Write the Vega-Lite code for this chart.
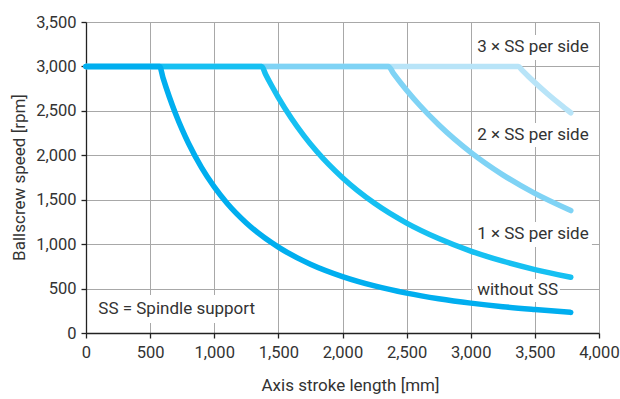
{
  "$schema": "https://vega.github.io/schema/vega-lite/v6.json",
  "width": 513,
  "height": 311,
  "autosize": {"type": "none"},
  "padding": {"left": 86, "top": 22, "right": 21, "bottom": 66},
  "background": "white",
  "config": {
    "font": "Roboto",
    "view": {"stroke": null},
    "axis": {
      "grid": true,
      "gridColor": "#a8a8a8",
      "gridWidth": 1,
      "gridOpacity": 1,
      "domainColor": "#222222",
      "domainWidth": 1.3,
      "tickColor": "#222222",
      "tickWidth": 1.3,
      "tickSize": 5,
      "labelFontSize": 16.5,
      "labelColor": "#333333",
      "labelFont": "Roboto",
      "labelFlush": false,
      "labelOverlap": false,
      "titleFont": "Roboto",
      "titleFontSize": 17,
      "titleFontWeight": "normal",
      "titleColor": "#333333"
    }
  },
  "datasets": {
    "curves": [
      {"s": "3x", "L": 0, "n": 3000}, {"s": "3x", "L": 3371, "n": 3000}, {"s": "3x", "L": 3400, "n": 2958},
      {"s": "3x", "L": 3450, "n": 2887}, {"s": "3x", "L": 3500, "n": 2819}, {"s": "3x", "L": 3600, "n": 2690},
      {"s": "3x", "L": 3700, "n": 2570}, {"s": "3x", "L": 3780, "n": 2479},

      {"s": "2x", "L": 0, "n": 3000}, {"s": "2x", "L": 2357, "n": 3000}, {"s": "2x", "L": 2400, "n": 2916},
      {"s": "2x", "L": 2450, "n": 2822}, {"s": "2x", "L": 2500, "n": 2733}, {"s": "2x", "L": 2600, "n": 2566},
      {"s": "2x", "L": 2750, "n": 2344}, {"s": "2x", "L": 3000, "n": 2033}, {"s": "2x", "L": 3250, "n": 1780},
      {"s": "2x", "L": 3500, "n": 1571}, {"s": "2x", "L": 3780, "n": 1378},

      {"s": "1x", "L": 0, "n": 3000}, {"s": "1x", "L": 1370, "n": 3000}, {"s": "1x", "L": 1400, "n": 2913},
      {"s": "1x", "L": 1450, "n": 2777}, {"s": "1x", "L": 1500, "n": 2650}, {"s": "1x", "L": 1600, "n": 2420},
      {"s": "1x", "L": 1700, "n": 2219}, {"s": "1x", "L": 1800, "n": 2042}, {"s": "1x", "L": 2000, "n": 1747},
      {"s": "1x", "L": 2250, "n": 1459}, {"s": "1x", "L": 2500, "n": 1237}, {"s": "1x", "L": 2750, "n": 1063},
      {"s": "1x", "L": 3000, "n": 922}, {"s": "1x", "L": 3250, "n": 808}, {"s": "1x", "L": 3500, "n": 714},
      {"s": "1x", "L": 3780, "n": 627},

      {"s": "0", "L": 0, "n": 3000}, {"s": "0", "L": 574, "n": 3000}, {"s": "0", "L": 600, "n": 2874},
      {"s": "0", "L": 650, "n": 2656}, {"s": "0", "L": 700, "n": 2462}, {"s": "0", "L": 750, "n": 2288},
      {"s": "0", "L": 800, "n": 2132}, {"s": "0", "L": 900, "n": 1864}, {"s": "0", "L": 1000, "n": 1644},
      {"s": "0", "L": 1100, "n": 1460}, {"s": "0", "L": 1250, "n": 1238}, {"s": "0", "L": 1500, "n": 966},
      {"s": "0", "L": 1750, "n": 774}, {"s": "0", "L": 2000, "n": 635}, {"s": "0", "L": 2250, "n": 530},
      {"s": "0", "L": 2500, "n": 449}, {"s": "0", "L": 2750, "n": 386}, {"s": "0", "L": 3000, "n": 336},
      {"s": "0", "L": 3250, "n": 296}, {"s": "0", "L": 3500, "n": 264}, {"s": "0", "L": 3780, "n": 232}
    ],
    "boxes": [
      {"L": 3015, "L2": 3945, "n": 3072, "n2": 3353},
      {"L": 3015, "L2": 3945, "n": 2093, "n2": 2363},
      {"L": 3015, "L2": 3945, "n": 968, "n2": 1249},
      {"L": 3015, "L2": 3696, "n": 349, "n2": 608},
      {"L": 47, "L2": 1318, "n": 113, "n2": 428}
    ],
    "labels": [
      {"L": 3050, "n": 3222, "text": "3 × SS per side"},
      {"L": 3050, "n": 2228, "text": "2 × SS per side"},
      {"L": 3050, "n": 1111, "text": "1 × SS per side"},
      {"L": 3050, "n": 484, "text": "without SS"},
      {"L": 96, "n": 267, "text": "SS = Spindle support"}
    ]
  },
  "encoding": {
    "x": {
      "field": "L", "type": "quantitative",
      "scale": {"domain": [0, 4000], "nice": false, "zero": false},
      "axis": {"title": "Axis stroke length [mm]", "tickCount": 8, "format": ",.0f", "labelPadding": 6, "titleX": 264, "titleY": 57, "titleBaseline": "alphabetic"}
    },
    "y": {
      "field": "n", "type": "quantitative",
      "scale": {"domain": [0, 3500], "nice": false},
      "axis": {"title": "Ballscrew speed [rpm]", "tickCount": 7, "format": ",.0f", "labelPadding": 5, "titleX": -58, "titleY": 155}
    }
  },
  "layer": [
    {
      "data": {"name": "boxes"},
      "mark": {"type": "rect", "fill": "white"},
      "encoding": {"x2": {"field": "L2"}, "y2": {"field": "n2"}}
    },
    {
      "data": {"name": "curves"},
      "transform": [{"filter": "datum.s === '3x'"}],
      "mark": {"type": "line", "color": "#b8e4f8", "strokeWidth": 5.5, "strokeCap": "round", "strokeJoin": "round", "interpolate": "monotone"}
    },
    {
      "data": {"name": "curves"},
      "transform": [{"filter": "datum.s === '2x'"}],
      "mark": {"type": "line", "color": "#7fd3f5", "strokeWidth": 5.5, "strokeCap": "round", "strokeJoin": "round", "interpolate": "monotone"}
    },
    {
      "data": {"name": "curves"},
      "transform": [{"filter": "datum.s === '1x'"}],
      "mark": {"type": "line", "color": "#16c0f2", "strokeWidth": 5.5, "strokeCap": "round", "strokeJoin": "round", "interpolate": "monotone"}
    },
    {
      "data": {"name": "curves"},
      "transform": [{"filter": "datum.s === '0'"}],
      "mark": {"type": "line", "color": "#00aeef", "strokeWidth": 5.5, "strokeCap": "round", "strokeJoin": "round", "interpolate": "monotone"}
    },
    {
      "data": {"name": "labels"},
      "mark": {"type": "text", "align": "left", "baseline": "middle", "fontSize": 17, "color": "#333333", "font": "Roboto"},
      "encoding": {"text": {"field": "text"}}
    }
  ]
}
